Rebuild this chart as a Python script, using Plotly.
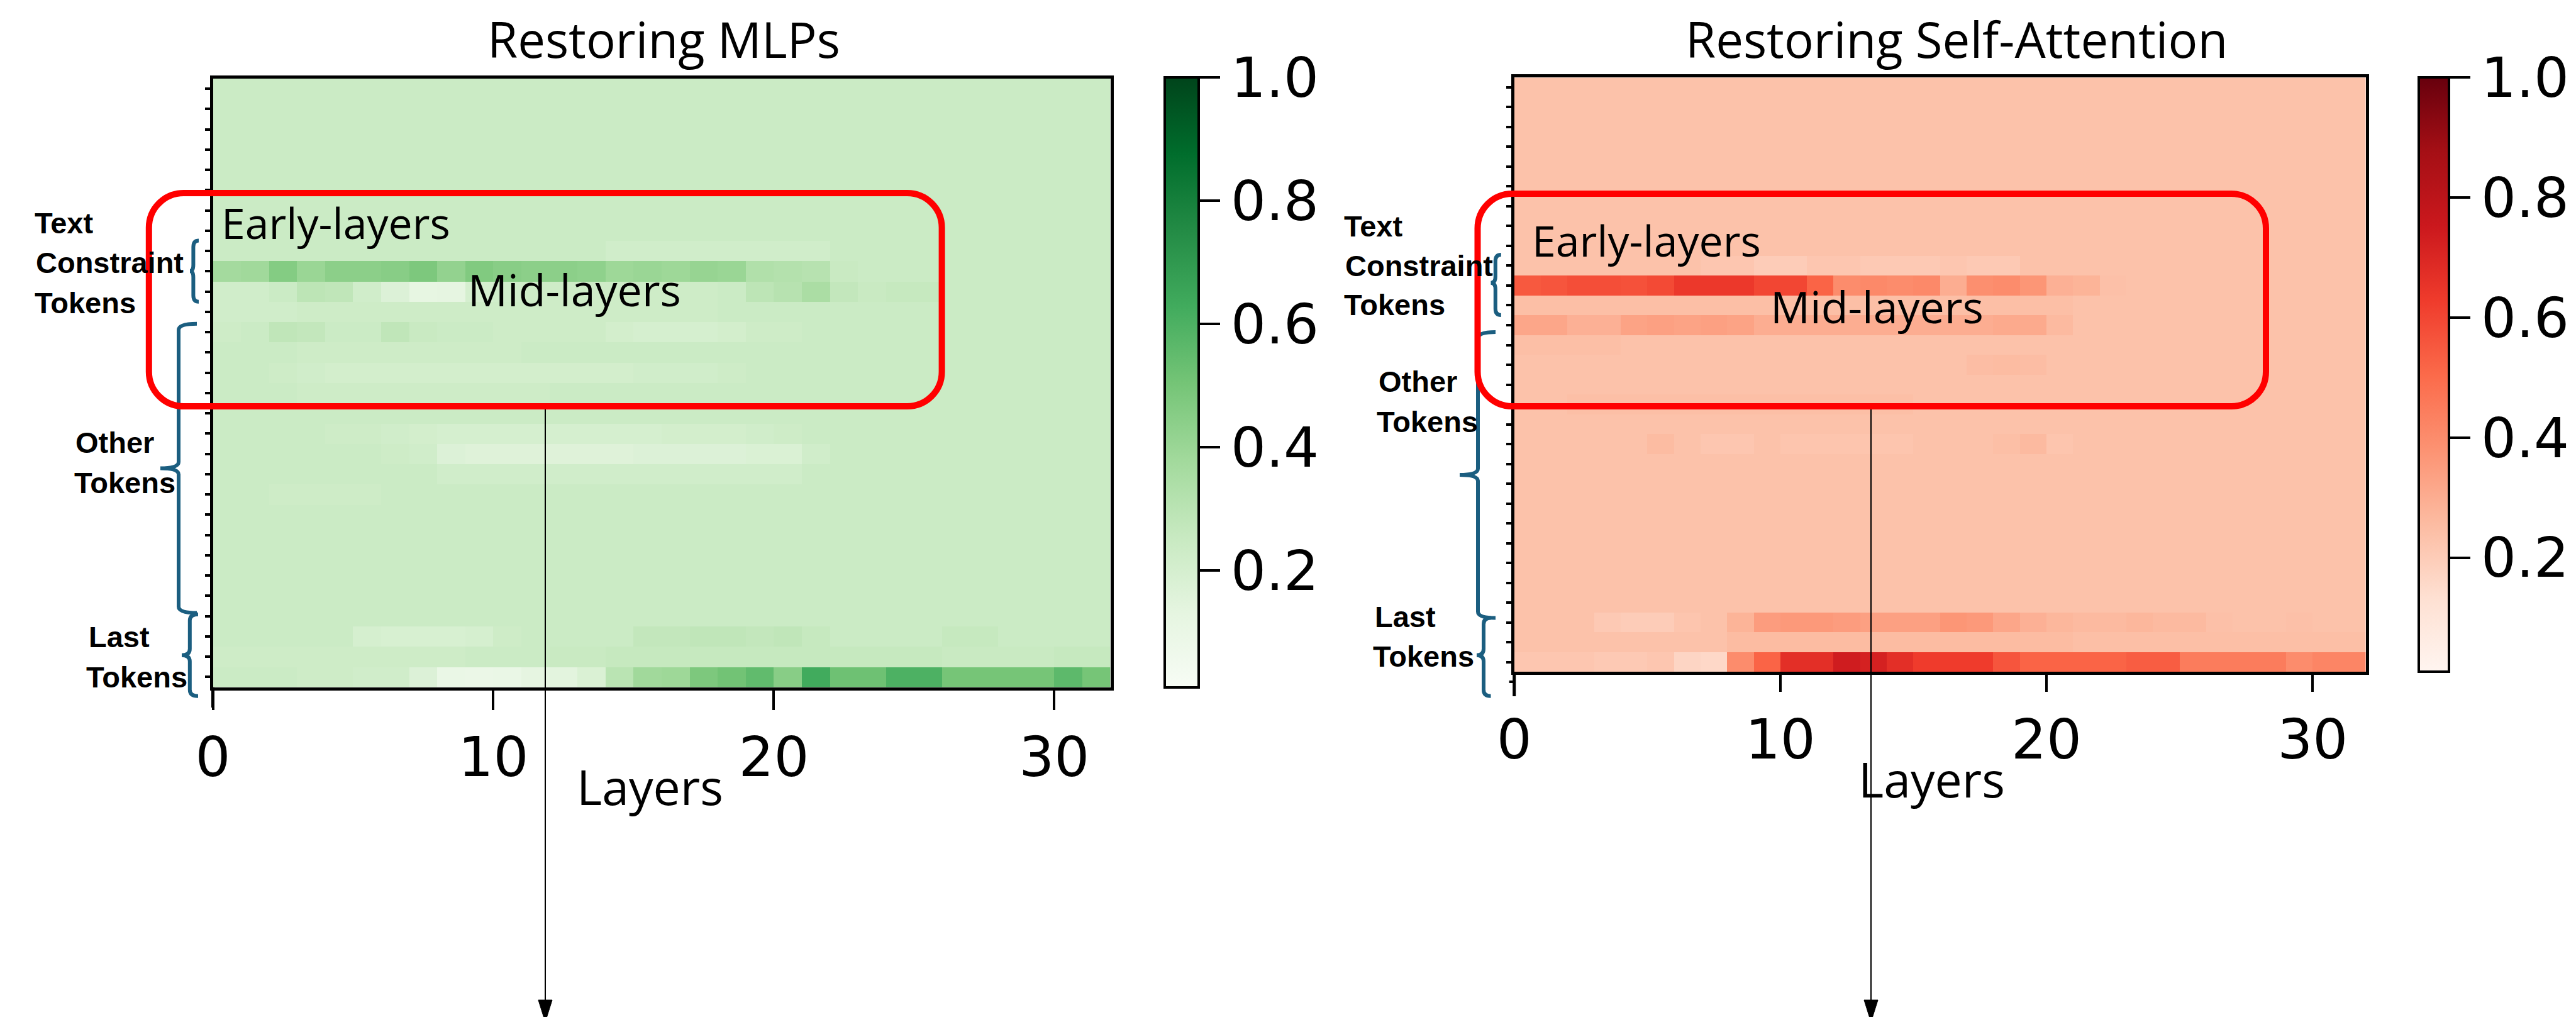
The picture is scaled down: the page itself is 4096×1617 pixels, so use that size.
import plotly.graph_objects as go

W, H = 4096, 1617

# ---------------- data ----------------
layers = [i + 0.5 for i in range(32)]          # cell centres, layer cells span [i, i+1]
tokens = list(range(30))                        # token rows (top -> bottom)
x_tick_vals = [0, 10, 20, 30]
x_tick_text = ["0", "10", "20", "30"]
cbar_tick_vals = [0.2, 0.4, 0.6, 0.8, 1.0]
cbar_tick_text = ["0.2", "0.4", "0.6", "0.8", "1.0"]

mlp_rows = [
    [.24,.24,.24,.24,.24,.24,.24,.24,.24,.24,.24,.24,.24,.24,.24,.24,.24,.24,.24,.24,.24,.24,.24,.24,.24,.24,.24,.24,.24,.24,.24,.24],
    [.24,.24,.24,.24,.24,.24,.24,.24,.24,.24,.24,.24,.24,.24,.24,.24,.24,.24,.24,.24,.24,.24,.24,.24,.24,.24,.24,.24,.24,.24,.24,.24],
    [.24,.24,.24,.24,.24,.24,.24,.24,.24,.24,.24,.24,.24,.24,.24,.24,.24,.24,.24,.24,.24,.24,.24,.24,.24,.24,.24,.24,.24,.24,.24,.24],
    [.24,.24,.24,.24,.24,.24,.24,.24,.24,.24,.24,.24,.24,.24,.24,.24,.24,.24,.24,.24,.24,.24,.24,.24,.24,.24,.24,.24,.24,.24,.24,.24],
    [.24,.24,.24,.24,.24,.24,.24,.24,.24,.24,.24,.24,.24,.24,.24,.24,.24,.24,.24,.24,.24,.24,.24,.24,.24,.24,.24,.24,.24,.24,.24,.24],
    [.24,.24,.24,.24,.24,.24,.24,.24,.24,.24,.24,.24,.24,.24,.24,.24,.24,.24,.24,.24,.24,.24,.24,.24,.24,.24,.24,.24,.24,.24,.24,.24],
    [.24,.24,.24,.24,.24,.24,.24,.24,.24,.24,.24,.24,.24,.24,.24,.24,.24,.24,.24,.24,.24,.24,.24,.24,.24,.24,.24,.24,.24,.24,.24,.24],
    [.24,.24,.24,.24,.24,.24,.24,.24,.24,.24,.24,.24,.24,.24,.24,.24,.24,.24,.24,.24,.24,.24,.24,.24,.24,.24,.24,.24,.24,.24,.24,.24],
    [.24,.24,.24,.24,.24,.24,.24,.24,.24,.24,.24,.24,.24,.24,.22,.22,.22,.22,.22,.22,.22,.22,.24,.24,.24,.24,.24,.24,.24,.24,.24,.24],
    [.37,.38,.46,.40,.44,.44,.45,.48,.42,.47,.45,.44,.44,.43,.39,.40,.39,.41,.40,.33,.32,.31,.25,.24,.24,.24,.24,.24,.24,.24,.24,.24],
    [.22,.22,.24,.29,.28,.22,.17,.12,.13,.20,.22,.23,.23,.23,.23,.23,.23,.23,.24,.29,.31,.35,.27,.25,.26,.26,.24,.24,.24,.24,.24,.24],
    [.22,.22,.22,.23,.23,.23,.23,.23,.23,.23,.23,.23,.23,.23,.23,.23,.23,.23,.24,.24,.24,.24,.24,.24,.24,.24,.24,.24,.24,.24,.24,.24],
    [.23,.24,.28,.27,.24,.24,.28,.25,.24,.24,.23,.23,.23,.23,.21,.20,.20,.20,.21,.23,.23,.24,.24,.24,.24,.24,.24,.24,.24,.24,.24,.24],
    [.24,.24,.24,.23,.23,.23,.23,.23,.23,.23,.23,.24,.24,.24,.24,.24,.24,.24,.24,.24,.24,.24,.24,.24,.24,.24,.24,.24,.24,.24,.24,.24],
    [.24,.24,.23,.22,.21,.21,.21,.21,.21,.21,.21,.21,.21,.21,.21,.22,.22,.22,.23,.24,.24,.24,.24,.24,.24,.24,.24,.24,.24,.24,.24,.24],
    [.24,.24,.24,.23,.23,.23,.23,.23,.23,.23,.23,.23,.24,.24,.24,.24,.24,.24,.24,.24,.24,.24,.24,.24,.24,.24,.24,.24,.24,.24,.24,.24],
    [.24,.24,.24,.24,.24,.24,.24,.24,.24,.24,.24,.24,.24,.24,.24,.24,.24,.24,.24,.24,.24,.24,.24,.24,.24,.24,.24,.24,.24,.24,.24,.24],
    [.24,.24,.24,.24,.23,.23,.22,.21,.20,.20,.20,.20,.20,.20,.20,.20,.21,.21,.21,.22,.23,.24,.24,.24,.24,.24,.24,.24,.24,.24,.24,.24],
    [.24,.24,.24,.24,.24,.24,.23,.22,.17,.16,.16,.16,.16,.16,.16,.17,.17,.17,.17,.18,.18,.22,.24,.24,.24,.24,.24,.24,.24,.24,.24,.24],
    [.24,.24,.24,.24,.24,.24,.24,.24,.22,.22,.22,.22,.22,.22,.22,.22,.22,.22,.22,.22,.22,.24,.24,.24,.24,.24,.24,.24,.24,.24,.24,.24],
    [.24,.24,.23,.23,.23,.23,.24,.24,.24,.24,.24,.24,.24,.24,.24,.24,.24,.24,.24,.24,.24,.24,.24,.24,.24,.24,.24,.24,.24,.24,.24,.24],
    [.24,.24,.24,.24,.24,.24,.24,.24,.24,.24,.24,.24,.24,.24,.24,.24,.24,.24,.24,.24,.24,.24,.24,.24,.24,.24,.24,.24,.24,.24,.24,.24],
    [.24,.24,.24,.24,.24,.24,.24,.24,.24,.24,.24,.24,.24,.24,.24,.24,.24,.24,.24,.24,.24,.24,.24,.24,.24,.24,.24,.24,.24,.24,.24,.24],
    [.24,.24,.24,.24,.24,.24,.24,.24,.24,.24,.24,.24,.24,.24,.24,.24,.24,.24,.24,.24,.24,.24,.24,.24,.24,.24,.24,.24,.24,.24,.24,.24],
    [.24,.24,.24,.24,.24,.24,.24,.24,.24,.24,.24,.24,.24,.24,.24,.24,.24,.24,.24,.24,.24,.24,.24,.24,.24,.24,.24,.24,.24,.24,.24,.24],
    [.24,.24,.24,.24,.24,.24,.24,.24,.24,.24,.24,.24,.24,.24,.24,.24,.24,.24,.24,.24,.24,.24,.24,.24,.24,.24,.24,.24,.24,.24,.24,.24],
    [.24,.24,.24,.24,.24,.24,.24,.24,.24,.24,.24,.24,.24,.24,.24,.24,.24,.24,.24,.24,.24,.24,.24,.24,.24,.24,.24,.24,.24,.24,.24,.24],
    [.24,.24,.24,.24,.24,.20,.19,.19,.19,.20,.23,.24,.24,.24,.24,.27,.27,.28,.28,.27,.28,.26,.24,.24,.24,.24,.26,.26,.24,.24,.24,.24],
    [.23,.23,.23,.23,.23,.23,.23,.23,.23,.24,.24,.24,.25,.25,.26,.26,.26,.26,.26,.26,.26,.26,.26,.26,.26,.26,.25,.25,.25,.25,.26,.26],
    [.24,.24,.24,.23,.23,.22,.22,.17,.10,.09,.10,.13,.14,.18,.30,.38,.39,.48,.51,.55,.45,.63,.52,.52,.60,.60,.50,.50,.50,.50,.56,.50],
]

attn_rows = [
    [.235,.235,.235,.235,.235,.235,.235,.235,.235,.235,.235,.235,.235,.235,.235,.235,.235,.235,.235,.235,.235,.235,.235,.235,.235,.235,.235,.235,.235,.235,.235,.235],
    [.235,.235,.235,.235,.235,.235,.235,.235,.235,.235,.235,.235,.235,.235,.235,.235,.235,.235,.235,.235,.235,.235,.235,.235,.235,.235,.235,.235,.235,.235,.235,.235],
    [.235,.235,.235,.235,.235,.235,.235,.235,.235,.235,.235,.235,.235,.235,.235,.235,.235,.235,.235,.235,.235,.235,.235,.235,.235,.235,.235,.235,.235,.235,.235,.235],
    [.235,.235,.235,.235,.235,.235,.235,.235,.235,.235,.235,.235,.235,.235,.235,.235,.235,.235,.235,.235,.235,.235,.235,.235,.235,.235,.235,.235,.235,.235,.235,.235],
    [.235,.235,.235,.235,.235,.235,.235,.235,.235,.235,.235,.235,.235,.235,.235,.235,.235,.235,.235,.235,.235,.235,.235,.235,.235,.235,.235,.235,.235,.235,.235,.235],
    [.235,.235,.235,.235,.235,.235,.235,.235,.235,.235,.235,.235,.235,.235,.235,.235,.235,.235,.235,.235,.235,.235,.235,.235,.235,.235,.235,.235,.235,.235,.235,.235],
    [.235,.235,.235,.235,.235,.235,.235,.235,.235,.235,.235,.235,.235,.235,.235,.235,.235,.235,.235,.235,.235,.235,.235,.235,.235,.235,.235,.235,.235,.235,.235,.235],
    [.235,.235,.235,.235,.235,.235,.235,.235,.235,.235,.235,.235,.235,.235,.235,.235,.235,.235,.235,.235,.235,.235,.235,.235,.235,.235,.235,.235,.235,.235,.235,.235],
    [.235,.235,.235,.235,.235,.235,.235,.235,.235,.235,.235,.235,.235,.235,.235,.235,.235,.235,.235,.235,.235,.235,.235,.235,.235,.235,.235,.235,.235,.235,.235,.235],
    [.235,.235,.235,.235,.235,.235,.235,.22,.22,.20,.20,.22,.22,.21,.21,.21,.22,.21,.21,.235,.235,.235,.235,.235,.235,.235,.235,.235,.235,.235,.235,.235],
    [.55,.56,.58,.58,.57,.59,.64,.64,.64,.60,.60,.52,.40,.41,.40,.41,.30,.39,.40,.37,.29,.28,.24,.235,.235,.235,.235,.235,.235,.235,.235,.235],
    [.245,.245,.245,.245,.245,.245,.245,.245,.245,.245,.245,.245,.245,.245,.245,.245,.245,.245,.245,.245,.245,.235,.235,.235,.235,.235,.235,.235,.235,.235,.235,.235],
    [.32,.32,.29,.29,.33,.34,.33,.34,.33,.30,.30,.30,.30,.30,.30,.30,.30,.30,.31,.31,.26,.235,.235,.235,.235,.235,.235,.235,.235,.235,.235,.235],
    [.245,.245,.245,.245,.235,.235,.235,.235,.235,.235,.235,.235,.235,.235,.235,.235,.235,.235,.235,.235,.235,.235,.235,.235,.235,.235,.235,.235,.235,.235,.235,.235],
    [.235,.235,.235,.235,.235,.235,.235,.235,.235,.235,.235,.235,.235,.235,.235,.235,.235,.25,.255,.25,.235,.235,.235,.235,.235,.235,.235,.235,.235,.235,.235,.235],
    [.235,.235,.235,.235,.235,.235,.235,.235,.235,.235,.235,.235,.235,.235,.235,.235,.235,.235,.235,.235,.235,.235,.235,.235,.235,.235,.235,.235,.235,.235,.235,.235],
    [.235,.235,.245,.245,.245,.245,.245,.245,.245,.245,.245,.245,.245,.245,.245,.235,.235,.235,.235,.235,.235,.235,.235,.235,.235,.235,.235,.235,.235,.235,.235,.235],
    [.235,.235,.235,.235,.235,.235,.235,.235,.235,.235,.235,.235,.235,.235,.235,.235,.235,.235,.235,.235,.235,.235,.235,.235,.235,.235,.235,.235,.235,.235,.235,.235],
    [.235,.235,.235,.235,.235,.255,.235,.22,.22,.235,.225,.225,.225,.225,.225,.235,.235,.235,.245,.26,.225,.235,.235,.235,.235,.235,.235,.235,.235,.235,.235,.235],
    [.235,.235,.235,.235,.235,.235,.235,.235,.235,.235,.235,.235,.235,.235,.235,.235,.235,.235,.235,.235,.235,.235,.235,.235,.235,.235,.235,.235,.235,.235,.235,.235],
    [.235,.235,.235,.235,.235,.235,.235,.235,.235,.235,.235,.235,.235,.235,.235,.235,.235,.235,.235,.235,.235,.235,.235,.235,.235,.235,.235,.235,.235,.235,.235,.235],
    [.235,.235,.235,.235,.235,.235,.235,.235,.235,.235,.235,.235,.235,.235,.235,.235,.235,.235,.235,.235,.235,.235,.235,.235,.235,.235,.235,.235,.235,.235,.235,.235],
    [.235,.235,.235,.235,.235,.235,.235,.235,.235,.235,.235,.235,.235,.235,.235,.235,.235,.235,.235,.235,.235,.235,.235,.235,.235,.235,.235,.235,.235,.235,.235,.235],
    [.235,.235,.235,.235,.235,.235,.235,.235,.235,.235,.235,.235,.235,.235,.235,.235,.235,.235,.235,.235,.235,.235,.235,.235,.235,.235,.235,.235,.235,.235,.235,.235],
    [.235,.235,.235,.235,.235,.235,.235,.235,.235,.235,.235,.235,.235,.235,.235,.235,.235,.235,.235,.235,.235,.235,.235,.235,.235,.235,.235,.235,.235,.235,.235,.235],
    [.235,.235,.235,.235,.235,.235,.235,.235,.235,.235,.235,.235,.235,.235,.235,.235,.235,.235,.235,.235,.235,.235,.235,.235,.235,.235,.235,.235,.235,.235,.235,.235],
    [.235,.235,.235,.235,.235,.235,.235,.235,.235,.235,.235,.235,.235,.235,.235,.235,.235,.235,.235,.235,.235,.235,.235,.235,.235,.235,.235,.235,.235,.235,.235,.235],
    [.235,.235,.235,.21,.20,.20,.225,.235,.28,.35,.36,.36,.35,.34,.34,.34,.37,.36,.32,.29,.27,.26,.26,.27,.26,.26,.24,.235,.235,.24,.235,.235],
    [.235,.235,.235,.235,.235,.235,.235,.235,.255,.255,.255,.255,.255,.255,.255,.255,.255,.255,.255,.255,.255,.245,.245,.245,.245,.245,.245,.245,.245,.245,.245,.245],
    [.22,.22,.22,.21,.21,.22,.17,.16,.40,.52,.67,.67,.74,.72,.67,.63,.63,.63,.56,.52,.52,.52,.52,.54,.54,.45,.45,.45,.45,.40,.42,.42],
]

for r in mlp_rows + attn_rows:
    assert len(r) == 32

# matplotlib-like sequential colour maps
greens = ["#f7fcf5", "#e5f5e0", "#c7e9c0", "#a1d99b", "#74c476",
          "#41ab5d", "#238b45", "#006d2c", "#00441b"]
reds = ["#fff5f0", "#fee0d2", "#fcbba1", "#fc9272", "#fb6a4a",
        "#ef3b2c", "#cb181d", "#a50f15", "#67000d"]
greens_scale = [[i / 8, c] for i, c in enumerate(greens)]
reds_scale = [[i / 8, c] for i, c in enumerate(reds)]

ZMIN, ZMAX = 0.01, 1.0


def X(px):
    return px / W


def Y(py):
    return 1 - py / H


# panel geometry in window pixels
L_x0, L_x1, L_y0, L_y1 = 330.5, 1757.5, 117.0, 1084.6
R_x0, R_x1, R_y0, R_y1 = 2399.7, 3753.8, 115.2, 1060.3

TICK_FONT = dict(family="DejaVu Sans", size=88, color="black")


def cbar(x_px, thick, y_top, y_bot):
    return dict(
        x=X(x_px), xanchor="left", xpad=0,
        y=Y(y_bot), yanchor="bottom", ypad=0,
        len=(y_bot - y_top) / H, lenmode="fraction",
        thickness=thick, thicknessmode="pixels",
        outlinewidth=4, outlinecolor="black",
        tickvals=cbar_tick_vals, ticktext=cbar_tick_text,
        ticks="outside", ticklen=32, tickwidth=4, tickcolor="black",
        tickfont=TICK_FONT,
    )


fig = go.Figure()
fig.add_trace(go.Heatmap(
    z=mlp_rows, x=layers, y=tokens, colorscale=greens_scale,
    zmin=ZMIN, zmax=ZMAX, xaxis="x", yaxis="y",
    colorbar=cbar(1844, 54, 115, 1085),
))
fig.add_trace(go.Heatmap(
    z=attn_rows, x=layers, y=tokens, colorscale=reds_scale,
    zmin=ZMIN, zmax=ZMAX, xaxis="x2", yaxis="y2",
    colorbar=cbar(3838, 48, 115, 1060),
))


def xaxis(x0, x1, anchor, ticklen):
    return dict(
        domain=[X(x0), X(x1)], anchor=anchor, range=[0, 32],
        tickvals=x_tick_vals, ticktext=x_tick_text, tickfont=TICK_FONT,
        ticks="outside", ticklen=ticklen, tickwidth=4, tickcolor="black",
        showline=True, linewidth=5, linecolor="black", mirror=True,
        showgrid=False, zeroline=False,
    )


def yaxis(y0, y1, anchor):
    return dict(
        domain=[Y(y1), Y(y0)], anchor=anchor, range=[29.5, -0.5],
        tickvals=tokens, showticklabels=False,
        ticks="outside", ticklen=8, tickwidth=4, tickcolor="black",
        showline=True, linewidth=5, linecolor="black", mirror=True,
        showgrid=False, zeroline=False,
    )


fig.update_layout(
    width=W, height=H, autosize=False,
    margin=dict(l=0, r=0, t=0, b=0, pad=0, autoexpand=False),
    paper_bgcolor="white", plot_bgcolor="white",
    xaxis=xaxis(L_x0, L_x1, "y", 31),
    yaxis=yaxis(L_y0, L_y1, "x"),
    xaxis2=xaxis(R_x0, R_x1, "y2", 27),
    yaxis2=yaxis(R_y0, R_y1, "x2"),
    showlegend=False,
)

# ---------------- annotations ----------------
ann = []
DY = -9   # plotly places the cap-centre a little below the anchor


def text(s, x, y, size, family, xanchor="center", bold=False, color="black"):
    ann.append(dict(
        text=f"<b>{s}</b>" if bold else s, x=X(x), y=Y(y + DY),
        xref="paper", yref="paper", showarrow=False,
        xanchor=xanchor, yanchor="middle",
        font=dict(family=family, size=size, color=color),
    ))


SANS = "Open Sans"
text("Restoring MLPs", 1047, 63, 78, SANS)
text("Restoring Self-Attention", 3103, 63, 78, SANS)
text("Layers", 1025, 1251, 77, SANS)
text("Layers", 3063, 1239, 77, SANS)
text("Early-layers", 342, 354, 68, SANS, xanchor="left")
text("Mid-layers", 905, 461, 70, SANS)
text("Early-layers", 2426, 382, 68, SANS, xanchor="left")
text("Mid-layers", 2976, 488, 70, SANS)

BOLD = "Liberation Sans"
side_left = [("Text", 44.6, 356), ("Constraint", 47, 419), ("Tokens", 44.6, 482),
             ("Other", 109.6, 704), ("Tokens", 108, 768),
             ("Last", 130.5, 1013), ("Tokens", 127, 1077)]
side_right = [("Text", 2127, 360), ("Constraint", 2129, 423), ("Tokens", 2127, 486),
              ("Other", 2182, 607.5), ("Tokens", 2179, 671),
              ("Last", 2175.5, 981), ("Tokens", 2172.6, 1044)]
for s, x, y in side_left + side_right:
    text(s, x, y, 47, BOLD, xanchor="left", bold=True)

fig.update_layout(annotations=ann)

# ---------------- shapes ----------------
shapes = []


def P(x, y):
    return f"{X(x):.6f},{Y(y):.6f}"


def rrect(x0, y0, x1, y1, r):
    k = 0.5523 * r
    return (f"M{P(x0 + r, y0)} L{P(x1 - r, y0)} "
            f"C{P(x1 - r + k, y0)} {P(x1, y0 + r - k)} {P(x1, y0 + r)} "
            f"L{P(x1, y1 - r)} "
            f"C{P(x1, y1 - r + k)} {P(x1 - r + k, y1)} {P(x1 - r, y1)} "
            f"L{P(x0 + r, y1)} "
            f"C{P(x0 + r - k, y1)} {P(x0, y1 - r + k)} {P(x0, y1 - r)} "
            f"L{P(x0, y0 + r)} "
            f"C{P(x0, y0 + r - k)} {P(x0 + r - k, y0)} {P(x0 + r, y0)} Z")


def brace(xs, xe, xt, y1, ym, y2, r=10):
    return (f"M{P(xe, y1)} Q{P(xs, y1)} {P(xs, y1 + r)} L{P(xs, ym - r)} "
            f"Q{P(xs, ym)} {P(xt, ym)} Q{P(xs, ym)} {P(xs, ym + r)} "
            f"L{P(xs, y2 - r)} Q{P(xs, y2)} {P(xe, y2)}")


BR = "#1b5e80"
for args in [
    (299.4, 308, 294, 374.5, 423, 471.7),
    (276, 305, 247, 506.7, 736.6, 966.5),
    (293.8, 307, 281, 968.8, 1033.8, 1098.7),
    (2369.8, 2378.8, 2362.5, 397, 441.8, 493),
    (2342, 2370, 2313, 520, 747, 974.5),
    (2351, 2362.5, 2340, 974.5, 1033.8, 1098.7),
]:
    shapes.append(dict(type="path", path=brace(*args), xref="paper", yref="paper",
                       line=dict(color=BR, width=6)))

# extended left spines below the panels (+ one extra tick on the right panel)
shapes.append(dict(type="line", xref="paper", yref="paper",
                   x0=X(L_x0), x1=X(L_x0), y0=Y(L_y1), y1=Y(1117),
                   line=dict(color="black", width=5)))
shapes.append(dict(type="line", xref="paper", yref="paper",
                   x0=X(R_x0), x1=X(R_x0), y0=Y(R_y1), y1=Y(1099),
                   line=dict(color="black", width=5)))
shapes.append(dict(type="line", xref="paper", yref="paper",
                   x0=X(R_x0 - 8), x1=X(R_x0), y0=Y(1076), y1=Y(1076),
                   line=dict(color="black", width=4)))

# arrows
for ax in (859, 2967):
    shapes.append(dict(type="line", xref="paper", yref="paper",
                       x0=X(ax), x1=X(ax), y0=Y(640), y1=Y(1585),
                       line=dict(color="black", width=2)))
    shapes.append(dict(type="path", xref="paper", yref="paper",
                       path=f"M{P(ax - 11, 1582)} L{P(ax + 11, 1582)} L{P(ax, 1617)} Z",
                       fillcolor="black", line=dict(color="black", width=1)))

# red rounded boxes
for x0, y0, x1, y1 in [(228.8, 299, 1489.6, 638), (2341.5, 300, 3595, 638)]:
    shapes.append(dict(type="path", path=rrect(x0, y0, x1, y1, 55),
                       xref="paper", yref="paper",
                       line=dict(color="#ff0000", width=10)))

fig.update_layout(shapes=shapes)

fig.write_html("out.html")
